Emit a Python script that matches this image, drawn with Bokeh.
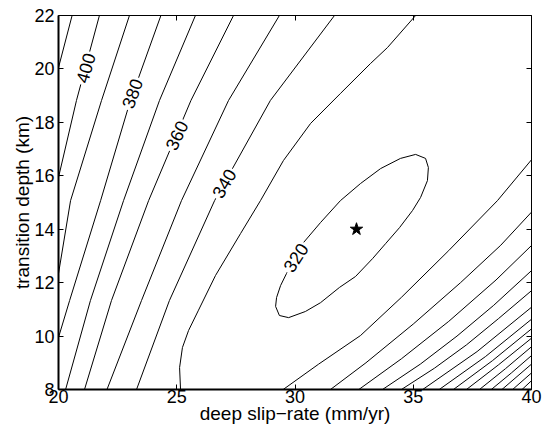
import math
from bokeh.plotting import figure
from bokeh.models import LinearAxis, FixedTicker, Range1d, ColumnDataSource
from bokeh.embed import file_html
from bokeh.resources import INLINE
from bokeh.core.properties import value

# ---------------- data ----------------
x_ticks = [20, 25, 30, 35, 40]
y_ticks = [8, 10, 12, 14, 16, 18, 20, 22]

# contours on the shallow-depth / low-slip side (upper left)
left_levels = [410, 400, 390, 380, 370, 360, 350, 340, 330]
left_xs = [
    [20.575, 20.0],
    [21.73, 20.76, 20.0],
    [23.0, 21.82, 20.51, 20.0],
    [24.33, 23.04, 21.78, 20.47, 20.0],
    [25.79, 24.27, 22.75, 21.35, 20.30],
    [27.40, 25.60, 23.81, 22.24, 21.10],
    [29.34, 27.19, 25.20, 23.51, 22.05],
    [31.67, 28.96, 26.60, 24.69, 23.30],
    [35.10, 33.91, 33.19, 31.92, 30.66, 29.51, 28.54, 27.70, 26.64, 25.92, 25.50, 25.24, 25.12, 25.16],
]
left_ys = [
    [22.0, 20.05],
    [22.0, 18.82, 15.94],
    [22.0, 18.82, 15.07, 12.34],
    [22.0, 18.82, 15.07, 11.33, 9.95],
    [22.0, 18.82, 15.07, 11.33, 8.0],
    [22.0, 18.82, 15.07, 11.33, 8.0],
    [22.0, 18.82, 15.07, 11.33, 8.0],
    [22.0, 18.82, 15.07, 11.33, 8.0],
    [22.0, 20.80, 20.20, 19.08, 17.96, 16.57, 15.07, 13.84, 12.27, 10.97, 10.21, 9.57, 8.82, 8.0],
]

# closed 320 contour around the best fit
ellipse_level = 320
ellipse_x = [35.10, 35.52, 35.64, 35.60, 35.31, 34.97, 34.42, 33.83, 33.28, 32.56, 31.88,
             31.08, 30.44, 29.73, 29.34, 29.18, 29.22, 29.39, 29.64, 29.98, 30.36, 31.08,
             31.92, 32.77, 33.62, 34.46, 35.10]
ellipse_y = [16.80, 16.65, 16.31, 15.82, 15.19, 14.70, 14.06, 13.46, 12.90, 12.23, 11.82,
             11.25, 10.92, 10.69, 10.77, 11.11, 11.44, 11.89, 12.34, 12.86, 13.50, 14.25,
             15.07, 15.71, 16.27, 16.65, 16.80]

# contours on the high-slip / shallow side (lower right)
right_levels = [330, 340, 350, 360, 370, 380, 390, 400, 410, 420, 430, 440, 450, 460]
right_xs = [
    [29.5, 31.0, 32.77, 34.5, 36.5, 38.56, 40.0],
    [31.5, 33.0, 35.0, 37.0, 38.7, 40.0],
    [32.7, 34.5, 36.5, 38.5, 40.0],
    [33.7, 35.3, 36.85, 38.4, 40.0],
    [34.5, 35.9, 37.25, 38.6, 40.0],
    [35.4, 37.7, 40.0],
    [36.1, 38.05, 40.0],
    [36.7, 38.35, 40.0],
    [37.25, 38.6, 40.0],
    [37.8, 38.9, 40.0],
    [38.3, 39.15, 40.0],
    [38.75, 40.0],
    [39.2, 40.0],
    [39.6, 40.0],
]
right_ys = [
    [8.0, 8.95, 10.02, 11.45, 13.2, 15.07, 16.6],
    [8.0, 9.0, 10.45, 12.0, 13.4, 14.64],
    [8.0, 9.15, 10.55, 12.1, 13.39],
    [8.0, 8.95, 10.0, 11.15, 12.45],
    [8.0, 8.8, 9.67, 10.65, 11.7],
    [8.0, 9.42, 11.08],
    [8.0, 9.23, 10.63],
    [8.0, 9.08, 10.27],
    [8.0, 8.92, 9.92],
    [8.0, 8.78, 9.6],
    [8.0, 8.62, 9.27],
    [8.0, 8.95],
    [8.0, 8.62],
    [8.0, 8.33],
]

# inline contour labels
label_text = ["400", "380", "360", "340", "320"]
label_x = [21.15, 23.12, 25.0, 27.0, 30.03]
label_y = [20.03, 19.08, 17.51, 15.71, 12.94]
label_angle_deg = [74, 70, 65, 60, 57]

# best-fitting model
best_x = [32.6]
best_y = [14.0]

FONT = "Liberation Sans"

# ---------------- figure ----------------
p = figure(width=544, height=433,
           x_range=Range1d(20, 40), y_range=Range1d(8, 22),
           output_backend="svg", toolbar_location=None,
           min_border_left=58, min_border_right=13,
           min_border_top=15, min_border_bottom=44,
           background_fill_color="white", border_fill_color="white")
p.outline_line_color = None
p.xgrid.visible = False
p.ygrid.visible = False
p.xaxis.ticker = FixedTicker(ticks=x_ticks)
p.yaxis.ticker = FixedTicker(ticks=y_ticks)

for ax in (p.xaxis[0], p.yaxis[0]):
    ax.major_tick_in = 5
    ax.major_tick_out = 0
    ax.minor_tick_line_color = None
    ax.axis_line_color = "black"
    ax.axis_line_width = 2
    ax.major_tick_line_color = "black"
    ax.major_label_text_font = FONT
    ax.major_label_text_font_size = "18px"
    ax.major_label_text_color = "black"
    ax.axis_label_text_font = FONT
    ax.axis_label_text_font_size = "19px"
    ax.axis_label_text_font_style = "normal"
    ax.axis_label_text_color = "black"

p.xaxis.axis_label = "deep slip\u2212rate (mm/yr)"
p.xaxis.major_label_standoff = 0
p.xaxis.axis_label_standoff = -3
p.yaxis.axis_label = "transition depth (km)"
p.yaxis.major_label_standoff = 4
p.yaxis.axis_label_standoff = -2

# box: top and right axes with inward ticks and no labels
top = LinearAxis(ticker=FixedTicker(ticks=x_ticks),
                 major_label_overrides={t: "" for t in x_ticks})
right = LinearAxis(ticker=FixedTicker(ticks=y_ticks),
                   major_label_overrides={t: "" for t in y_ticks})
for ax in (top, right):
    ax.major_tick_in = 5
    ax.major_tick_out = 0
    ax.minor_tick_line_color = None
    ax.axis_line_color = "black"
    ax.axis_line_width = 1
    ax.major_label_text_font_size = "0px"
    ax.major_label_standoff = 0
p.add_layout(top, "above")
p.add_layout(right, "right")

# ---------------- contours ----------------
p.multi_line(xs=left_xs, ys=left_ys, line_color="black", line_width=1)
p.multi_line(xs=right_xs, ys=right_ys, line_color="black", line_width=1)
p.line(ellipse_x, ellipse_y, line_color="black", line_width=1)

lab_src = ColumnDataSource(dict(
    x=label_x, y=label_y, text=label_text,
    angle=[math.radians(a) for a in label_angle_deg]))
p.text(x="x", y="y", text="text", angle="angle", source=lab_src,
       text_font=value(FONT), text_font_size="18px", text_color="black",
       text_align="center", text_baseline="middle",
       background_fill_color="white", padding=2)

p.scatter(best_x, best_y, marker="star", size=13, fill_color="black", line_color="black")

open("out.html", "w").write(file_html(p, INLINE))
